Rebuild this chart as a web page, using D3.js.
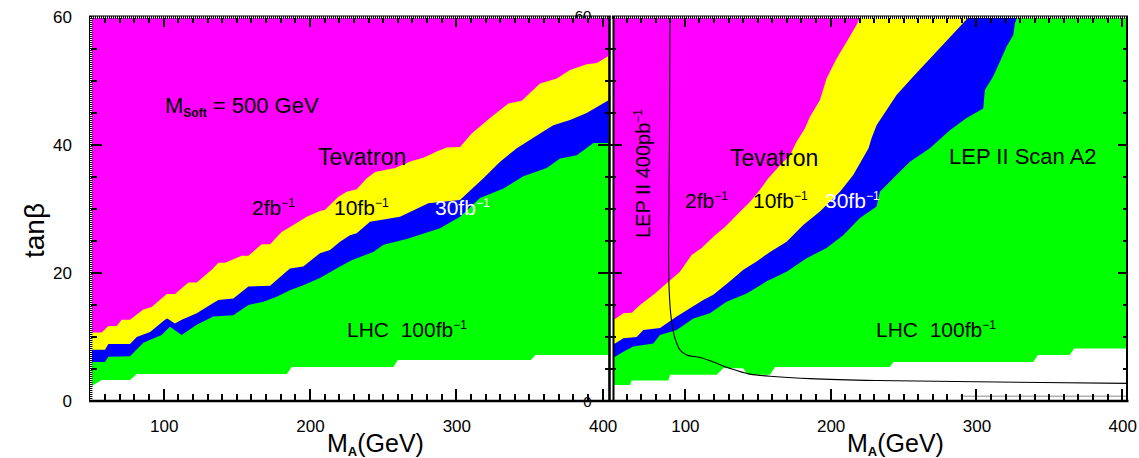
<!DOCTYPE html>
<html>
<head>
<meta charset="utf-8">
<script src="https://cdn.jsdelivr.net/npm/d3@7"></script>
<style>
  body { margin: 0; background: #fff; color: #000; }
  svg { display: block; }
  text { font-family: "Liberation Sans", Arial, sans-serif; }
</style>
</head>
<body>
<svg id="chart" width="1139" height="458"></svg>
<script>
// ---- axis ticks ----
const massMajor = [100, 200, 300, 400];
const massMinor = [60, 70, 80, 90, 110, 120, 130, 140, 150, 160, 170, 180, 190, 210, 220, 230, 240, 250, 260, 270, 280, 290, 310, 320, 330, 340, 350, 360, 370, 380, 390];
const tanbMajor = [0, 20, 40, 60];
const tanbMinor = [5, 10, 15, 25, 30, 35, 45, 50, 55];

// ---- left panel (M_soft = 500 GeV): upper edges of each reach, [M_A, tanβ] ----
const leftTev2fb = [[50,10.7],[57.6,10.7],[62.2,11.7],[67.9,11.7],[71.3,12.7],[77,12.7],[86.1,14.3],[91.8,14.7],[102.1,16.7],[107.7,16.7],[116.9,18.5],[122.6,18.5],[132.8,20.5],[137.4,21.6],[141.9,21.6],[153.3,22.7],[157.9,22.7],[167,24.5],[172.7,24.5],[180.6,26.4],[188.6,27.5],[197.7,28.8],[206.8,29.7],[210.3,29.9],[219.4,31.9],[225.1,32.7],[231.9,33.1],[238.8,34.8],[244.5,35.8],[258.1,36.4],[269.5,37.5],[277.5,38],[286.6,39],[293.4,39.6],[302.5,39.7],[310.5,41.8],[323,44.2],[335.6,46.5],[344.7,46.9],[357.2,49.6],[368.6,50.4],[377.7,51.7],[389.1,52.6],[396,52.8],[404,53.9]];
const leftTev10fb = [[50,8],[59.9,8],[62.2,8.9],[77,8.9],[81.6,10],[90.7,10.8],[100.9,12.7],[102.5,12.9],[107.7,12.1],[112.3,12.7],[122.6,13.7],[133.9,15.3],[137.4,15.8],[147.6,16],[157.9,17.9],[172.7,18],[186.3,20.7],[195.4,21],[206.8,23.1],[213.7,23.6],[220.5,24.9],[227.3,25.9],[231.9,26.2],[241,28],[261.5,28.8],[280.9,30.9],[302.5,31.4],[318.5,34.8],[329.9,37.4],[341.3,39.5],[357.2,41.8],[366.3,43.1],[377.7,43.9],[389.1,45],[404,47]];
const leftTev30fb = [[50,6.1],[59.9,6.1],[62.2,6.9],[77,7],[86.1,9.1],[98.6,10.3],[104.3,11.6],[112.3,10.3],[122.6,11.9],[133.9,13.2],[147.6,13.4],[157.9,15],[168.1,15.5],[177.2,16.3],[186.3,17.3],[195.4,18.1],[206.8,19.2],[213.7,20.1],[220.5,21],[228.5,22],[243.3,23.3],[250.2,24.4],[266.1,25.3],[288.9,27],[302.5,28.8],[316.2,31.7],[332.2,33.2],[345.8,35.1],[361.8,36.4],[370.9,37.9],[382.3,38.4],[393.7,40.3],[404,40.3]];
const leftLhc100 = [[50,2.2],[51.9,2.5],[57.6,3.3],[77,3.3],[81.6,4.2],[184.1,4.2],[187.5,5.3],[257,5.3],[260,6.4],[351,6.4],[354,7.2],[404,7.2]];

// ---- right panel (LEP II scan A2) ----
const rightTev2fb = [[50,12.8],[52.1,12.8],[57.8,13.7],[63.5,13.8],[69.2,15],[79.5,16.8],[87.5,18.4],[96.6,20.2],[104.6,22.8],[111.5,23.9],[120.6,25.9],[127.5,27.2],[136.6,29.3],[144.6,31.1],[151.5,33],[157.2,34.8],[166.4,37.1],[172.1,38.4],[176.6,40.5],[182.4,42.6],[185.8,44.4],[192.6,47],[197.2,50.4],[204.1,53.5],[210.9,56.1],[217.8,58.8],[221.2,60.5],[404,60.5]];
const rightTev10fb = [[50,9],[52.1,9],[57.8,9.8],[66.9,10],[71.5,11.1],[82.9,11.4],[94.4,13.2],[103.5,14.5],[112.6,15.8],[119.5,16.6],[130.9,18.7],[140.1,20.5],[149.2,21.8],[158.4,23.3],[169.8,24.9],[181.2,27.5],[192.6,29.6],[206.4,32.7],[215.5,35.3],[226,39.5],[228,41],[231.5,43.1],[245.2,47.8],[256.7,50.7],[272.7,54.6],[288.7,58.5],[296.7,60.5],[404,60.5]];
const rightTev30fb = [[50,6.9],[52.1,6.9],[57.8,7.7],[64.6,8.5],[78.4,9],[82.9,10.3],[94.4,11.1],[105.8,12.9],[117.2,13.7],[128.6,15.5],[142.4,16.8],[156.1,18.7],[169.8,20.2],[183.5,22.3],[197.2,23.9],[208.6,25.9],[220.1,28.6],[231.5,30.4],[233.8,32.7],[245.2,35.3],[254.4,37.4],[268.1,39.5],[281.8,42.3],[293.3,44.2],[304.7,45.7],[305.8,48.6],[311.5,50.7],[316.1,53],[320.7,55.4],[325.3,57.2],[326.4,59],[328.7,60.5],[404,60.5]];
const rightLhc100 = [[50,2.5],[62.3,2.5],[63.5,3.2],[88.6,3.2],[89.8,4.1],[121.8,4.1],[126.3,5.1],[140,5.1],[143,4.1],[158.4,4.1],[161.8,5.3],[240.5,5.3],[243,6.1],[339,6.1],[342,7.2],[364,7.2],[367,8.2],[404,8.2]];

// LEP II 400 pb^-1 exclusion contour
const lep400 = [[89.8,60],[89.4,40],[89.1,18],[90.9,12.4],[93.2,9.8],[96.6,8],[101.2,7.2],[110.4,6.8],[119.5,6.1],[130.9,5.1],[144.7,4.2],[163,3.8],[185.8,3.5],[231.5,3.2],[300,3],[404,2.75]];
const lepFaint = [[289,0.75],[404,0.75]];

const svg = d3.select("#chart");
const y = d3.scaleLinear().domain([0, 60]).range([401, 17]);
const xL = d3.scaleLinear().domain([50, 404]).range([90.5, 608.5]);
const xR = d3.scaleLinear().domain([50, 404]).range([612, 1128]);

const COLORS = { tev2: "#ff00ff", tev10: "#ffff00", tev30: "#0000ff", lhc: "#00ff00", none: "#ffffff" };

// stray tick label of the right frame that peeks out above the join
svg.append("text").attr("x", 583).attr("y", 21).attr("text-anchor", "middle")
  .attr("font-size", 15).attr("fill", "#000").text("60");

function drawRegions(x, clip, id, edges) {
  const defs = svg.append("defs");
  defs.append("clipPath").attr("id", id).append("rect")
    .attr("x", clip[0]).attr("y", 18).attr("width", clip[1] - clip[0]).attr("height", 401 - 18);
  const g = svg.append("g").attr("clip-path", `url(#${id})`);
  g.append("rect").attr("x", clip[0]).attr("y", 18).attr("width", clip[1] - clip[0]).attr("height", 383)
    .attr("fill", COLORS.tev2);
  const area = d3.area().x(d => x(d[0])).y0(y(0) + 2).y1(d => y(d[1]));
  edges.forEach(([data, col]) => {
    g.append("path").datum(data).attr("d", area).attr("fill", col);
  });
  return g;
}

drawRegions(xL, [92, 609], "clipL", [
  [leftTev2fb, COLORS.tev10], [leftTev10fb, COLORS.tev30], [leftTev30fb, COLORS.lhc], [leftLhc100, COLORS.none]
]);
const gR = drawRegions(xR, [613, 1127], "clipR", [
  [rightTev2fb, COLORS.tev10], [rightTev10fb, COLORS.tev30], [rightTev30fb, COLORS.lhc], [rightLhc100, COLORS.none]
]);

const lineR = d3.line().x(d => xR(d[0])).y(d => y(d[1])).curve(d3.curveCatmullRom.alpha(0.5));
gR.append("path").datum(lep400).attr("d", lineR).attr("fill", "none").attr("stroke", "#000").attr("stroke-width", 1.1);
gR.append("path").datum(lepFaint).attr("d", lineR).attr("fill", "none").attr("stroke", "#888").attr("stroke-width", 1);

// "0" label of the right frame, lower half showing below the join
svg.append("defs").append("clipPath").attr("id", "clipZero").append("rect")
  .attr("x", 575).attr("y", 397).attr("width", 25).attr("height", 20);
svg.append("text").attr("x", 587.5).attr("y", 407).attr("text-anchor", "middle")
  .attr("font-size", 15).attr("fill", "#000").attr("clip-path", "url(#clipZero)").text("0");

// ---- text labels inside the panels ----
function label(x, yy, parts, opts = {}) {
  const t = svg.append("text").attr("x", x).attr("y", yy)
    .attr("font-size", opts.size || 21).attr("fill", opts.fill || "#000")
    .style("white-space", "pre");
  if (opts.rotate) t.attr("transform", `rotate(-90,${x},${yy})`);
  parts.forEach(p => {
    const s = t.append("tspan").text(p.t);
    if (p.size) s.attr("font-size", p.size);
    if (p.dy) s.attr("dy", p.dy);
    if (p.bold) s.attr("font-weight", "bold");
  });
  return t;
}
const fb = (n, fill, x, yy) => label(x, yy, [{ t: n + "fb" }, { t: "−1", size: 12, dy: -8 }], { fill });

label(165, 113, [{ t: "M" }, { t: "Soft", size: 12, dy: 4, bold: true }, { t: " = 500 GeV", dy: -4 }], { size: 22 });
label(318, 165, [{ t: "Tevatron" }], { size: 23 });
fb(2, "#000", 252, 215);
fb(10, "#000", 334, 215);
fb(30, "#fff", 435, 215);
label(347, 337, [{ t: "LHC  100fb" }, { t: "−1", size: 12, dy: -8 }], { size: 21 });

label(650, 238, [{ t: "LEP II 400pb" }, { t: "−1", size: 12, dy: -8 }], { size: 20, rotate: true });
label(730, 166, [{ t: "Tevatron" }], { size: 23 });
fb(2, "#000", 685, 208);
fb(10, "#000", 753, 208);
fb(30, "#fff", 825, 208);
label(949, 164, [{ t: "LEP II Scan A2" }], { size: 22 });
label(876, 337, [{ t: "LHC  100fb" }, { t: "−1", size: 12, dy: -8 }], { size: 21 });

// ---- frames ----
function seg(x1, y1, x2, y2, w, dash) {
  const l = svg.append("line").attr("x1", x1).attr("y1", y1).attr("x2", x2).attr("y2", y2)
    .attr("stroke", "#000").attr("stroke-width", w);
  if (dash) l.attr("stroke-dasharray", dash);
}
seg(89, 17.5, 611, 17.5, 3, "1 1");
seg(612, 17.5, 1128, 17.5, 3, "1 1");
seg(89, 16, 611, 16, 1);
seg(612, 16, 1128, 16, 1);
seg(91, 16, 91, 402, 3, "1 1");
seg(89.5, 16, 89.5, 402, 1);
seg(609.5, 16, 609.5, 402, 2.5);
seg(613.5, 16, 613.5, 402, 2);
seg(1127, 16, 1127, 402, 2);
seg(89, 401, 1128.5, 401, 2.5);

// ---- tick marks as thin filled bars, positioned through the scales ----
const TICK_W = 2;
function xTicks(x, vals, y0, len) {
  vals.forEach(v => {
    svg.append("rect").attr("x", Math.round(x(v)) - TICK_W / 2).attr("width", TICK_W)
      .attr("y", Math.min(y0, y0 + len)).attr("height", Math.abs(len)).attr("fill", "#000");
  });
}
function yTicks(vals, x0, len) {
  vals.forEach(v => {
    svg.append("rect").attr("y", Math.round(y(v)) - TICK_W / 2).attr("height", TICK_W)
      .attr("x", Math.min(x0, x0 + len)).attr("width", Math.abs(len)).attr("fill", "#000");
  });
}
[xL, xR].forEach(x => {
  xTicks(x, massMajor, 400, -11);
  xTicks(x, massMinor, 400, -6);
  xTicks(x, massMajor, 18, 9);
  xTicks(x, massMinor, 18, 5);
});
yTicks(tanbMajor.slice(1, 3), 91, 11);
yTicks(tanbMinor, 91, 6);
yTicks(tanbMajor.slice(1, 3), 598, 24);
yTicks(tanbMinor, 605, 11);
yTicks(tanbMajor.slice(1, 3), 1127, -9);
yTicks(tanbMinor, 1127, -4);

// ---- tick labels ----
function labels(gen, tx, ty, vals, pad) {
  const g = svg.append("g").attr("transform", `translate(${tx},${ty})`)
    .call(gen.tickValues(vals).tickSize(0).tickPadding(pad).tickFormat(d3.format("d")));
  g.select(".domain").remove();
  g.selectAll(".tick line").remove();
  g.selectAll(".tick text").attr("fill", "#000").attr("font-size", 17)
    .attr("font-family", "Liberation Sans, Arial, sans-serif");
}
labels(d3.axisBottom(xL), 0, 401, massMajor, 19);
labels(d3.axisBottom(xR), 0, 401, massMajor, 19);
labels(d3.axisLeft(y), 91, 0, tanbMajor, 19);

// axis titles
[[327, 452], [847, 452]].forEach(([x, yy]) => {
  label(x, yy, [{ t: "M" }, { t: "A", size: 13, dy: 4, bold: true }, { t: "(GeV)", dy: -4 }], { size: 25 });
});
label(44, 258, [{ t: "tanβ" }], { size: 28, rotate: true });
</script>
</body>
</html>
